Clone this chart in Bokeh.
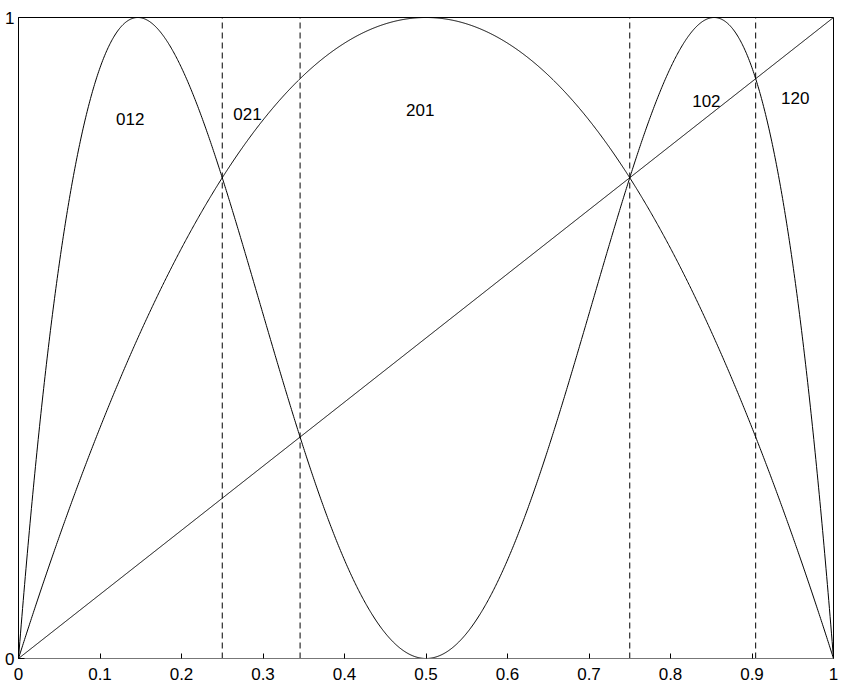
import numpy as np
from bokeh.plotting import figure
from bokeh.models import Range1d, FixedTicker, ColumnDataSource
from bokeh.core.properties import value
from bokeh.embed import file_html
from bokeh.resources import INLINE

# logistic map parameter (peak of f reaches 1)
r = 4.0
# boundaries of the orderings (dashed lines)
boundaries = [0.25, 0.3455, 0.75, 0.9045]
# region labels
region_labels = ["012", "021", "201", "102", "120"]
label_x = [0.137, 0.281, 0.493, 0.844, 0.953]
label_y = [0.842, 0.849, 0.855, 0.869, 0.874]
x_ticks = [0, 0.1, 0.2, 0.3, 0.4, 0.5, 0.6, 0.7, 0.8, 0.9, 1]
x_tick_labels = ["0", "0.1", "0.2", "0.3", "0.4", "0.5", "0.6", "0.7", "0.8", "0.9", "1"]
y_ticks = [0, 1]
y_tick_labels = ["0", "1"]

x = np.linspace(0, 1, 1201)
f1 = r * x * (1 - x)
f2 = r * f1 * (1 - f1)

p = figure(width=845, height=689, output_backend="svg", toolbar_location=None,
           x_range=Range1d(0, 1), y_range=Range1d(0, 1),
           min_border_left=18, min_border_right=12, min_border_top=17, min_border_bottom=31)
p.grid.visible = False
p.background_fill_color = "white"
p.border_fill_color = "white"
p.outline_line_color = "black"
p.outline_line_width = 1
p.outline_line_alpha = 1

for ax in (p.xaxis[0], p.yaxis[0]):
    ax.major_tick_in = 5
    ax.major_tick_out = 0
    ax.minor_tick_in = 0
    ax.minor_tick_out = 0
    ax.axis_line_color = "black"
    ax.major_tick_line_color = "black"
    ax.major_label_text_font = "Liberation Sans"
    ax.major_label_text_font_size = "17px"
    ax.major_label_text_color = "black"

p.xaxis.ticker = FixedTicker(ticks=x_ticks)
p.xaxis.major_label_overrides = {t: l for t, l in zip(x_ticks, x_tick_labels)}
p.xaxis.major_label_standoff = 9
p.xaxis.axis_line_color = "#777777"
p.yaxis.ticker = FixedTicker(ticks=y_ticks)
p.yaxis.major_label_overrides = {t: l for t, l in zip(y_ticks, y_tick_labels)}
p.yaxis.major_label_standoff = 4
p.yaxis.major_tick_in = 6

p.line(x, f1, line_color="black", line_width=1)
p.line(x, f2, line_color="black", line_width=1)
p.line(x, x, line_color="black", line_width=1)

for b in boundaries:
    p.line([b, b], [0, 1], line_color="black", line_width=1, line_dash="6 4")

src = ColumnDataSource(dict(x=label_x, y=label_y, t=region_labels))
p.text(x="x", y="y", text="t", source=src, text_align="center", text_baseline="middle",
       text_font=value("Liberation Sans"), text_font_size="17px", text_color="black")

open("out.html", "w").write(file_html(p, INLINE))
